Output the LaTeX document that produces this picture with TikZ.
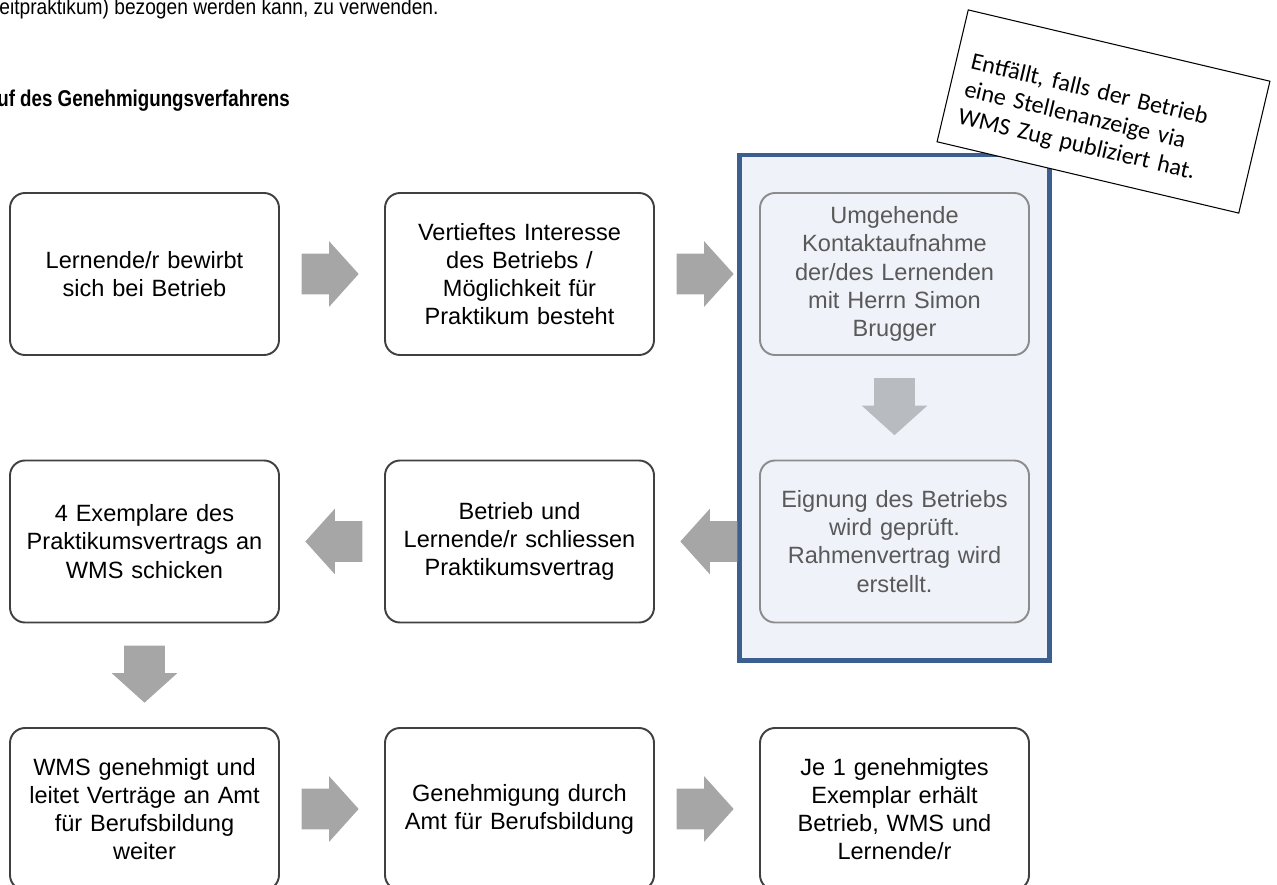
\documentclass[tikz,border=0pt]{standalone}
\usepackage{fontspec}
\setmainfont{Liberation Sans}
\newfontfamily\notefont{Carlito}
\usepackage{graphicx}
\usepackage{xcolor}
\usepackage{tikz}
\usetikzlibrary{shapes,arrows}
\usetikzlibrary{positioning}
\usetikzlibrary{fit,backgrounds}
\definecolor{boxborder}{RGB}{64,64,64}
\definecolor{subborder}{RGB}{140,140,140}
\definecolor{subtext}{RGB}{89,89,89}
\definecolor{arrowgray}{RGB}{166,166,166}
\definecolor{arrowsub}{RGB}{184,187,192}
\definecolor{groupfill}{RGB}{239,242,248}
\definecolor{groupframe}{RGB}{59,96,143}
\tikzstyle{block} = [rectangle, draw=boxborder, line width=1.1pt, fill=white,
    rounded corners=0.3cm, text width=5cm, align=center, inner sep=0pt,
    minimum width=5.38cm, minimum height=3.24cm, font=\fontsize{13.4}{16}\selectfont]
\tikzstyle{subblock} = [block, draw=subborder, fill=groupfill, text=subtext]
\tikzstyle{flow} = [single arrow, draw=none, fill=arrowgray, inner xsep=0pt,
    inner ysep=0.4cm, minimum height=1.14cm, minimum width=1.3cm,
    single arrow head extend=0.25cm, single arrow tip angle=96]
\tikzstyle{subflow} = [flow, fill=arrowsub]
\tikzstyle{group} = [rectangle, draw=groupframe, line width=2.8pt,
    fill=groupfill, inner xsep=0.39cm, inner ysep=0.74cm]
\tikzstyle{note} = [rectangle, draw, line width=0.6pt, fill=white,
    minimum width=6.2cm, minimum height=2.71cm]
\tikzstyle{notetext} = [text width=5.6cm, align=left, inner sep=0pt,
    font=\notefont\fontsize{13.7}{16}\selectfont]
\begin{document}
\begin{tikzpicture}[node distance=7.5cm, auto]
  \useasboundingbox (0,0) rectangle (25.54,-17.70);
  \clip (0,0) rectangle (25.54,-17.70);
  % Text above the chart
  \node [anchor=base west, inner sep=0pt, font=\fontsize{12.4}{14}\selectfont] (intro) at (-0.02,-0.3)
    {\scalebox{0.88}[1]{eitpraktikum) bezogen werden kann, zu verwenden.}};
  \node [anchor=base west, inner sep=0pt, font=\bfseries\fontsize{13}{15}\selectfont] (title) at (-0.06,-2.14)
    {\scalebox{0.82}[1]{uf des Genehmigungsverfahrens}};
  % Place nodes
  \node [block] (apply) at (2.89,-5.48) {Lernende/r bewirbt\\sich bei Betrieb};
  \node [block, right of=apply] (interest) {Vertieftes Interesse\\des Betriebs /\\Möglichkeit für\\Praktikum besteht};
  \node [subblock, right of=interest] (contact) {Umgehende\\Kontaktaufnahme\\der/des Lernenden\\mit Herrn Simon\\Brugger};
  \node [subblock, below of=contact, node distance=5.35cm] (check) {Eignung des Betriebs\\wird geprüft.\\Rahmenvertrag wird\\erstellt.};
  \node [block, left of=check] (contract) {Betrieb und\\Lernende/r schliessen\\Praktikumsvertrag};
  \node [block, left of=contract] (copies) {4 Exemplare des\\Praktikumsvertrags an\\WMS schicken};
  \node [block, below of=copies, node distance=5.35cm] (approve) {WMS genehmigt und\\leitet Verträge an Amt\\für Berufsbildung\\weiter};
  \node [block, right of=approve] (office) {Genehmigung durch\\Amt für Berufsbildung};
  \node [block, right of=office] (result) {Je 1 genehmigtes\\Exemplar erhält\\Betrieb, WMS und\\Lernende/r};
  % Frame round the WMS steps
  \begin{scope}[on background layer]
    \node [group, fit=(contact)(check)] (wms) {};
  \end{scope}
  % Draw arrows
  \node [flow, right of=apply, node distance=3.53cm] (go1) {};
  \node [flow, right of=interest, node distance=3.53cm] (go2) {};
  \node [subflow, below of=contact, node distance=2.47cm, rotate=-90] (go3) {};
  \node [flow, left of=check, node distance=3.53cm, rotate=180] (go4) {};
  \node [flow, left of=contract, node distance=3.53cm, rotate=180] (go5) {};
  \node [flow, below of=copies, node distance=2.47cm, rotate=-90] (go6) {};
  \node [flow, right of=approve, node distance=3.53cm] (go7) {};
  \node [flow, right of=office, node distance=3.53cm] (go8) {};
  % Note
  \node [note, rotate=-13.3] (hint) at (22.07,-2.23) {};
  \node [notetext, rotate=-13.3, yshift=-0.22cm] (hinttext) at (hint.center)
    {Entfällt, falls der Betrieb\\eine Stellenanzeige via\\WMS Zug publiziert hat.};
\end{tikzpicture}
\end{document}
